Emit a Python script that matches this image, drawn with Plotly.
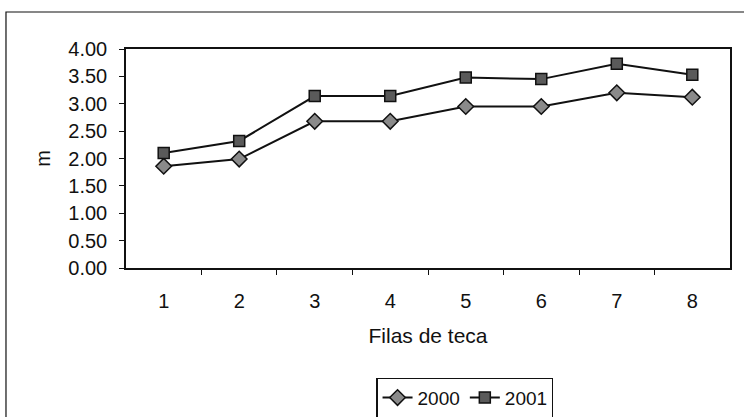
import plotly.graph_objects as go

# Teca row heights (m) measured in two years
filas = ["1", "2", "3", "4", "5", "6", "7", "8"]
altura_2000 = [1.86, 1.99, 2.68, 2.68, 2.95, 2.95, 3.20, 3.12]
altura_2001 = [2.10, 2.32, 3.14, 3.14, 3.48, 3.45, 3.73, 3.53]

FONT = "Liberation Sans, Arial, sans-serif"
INK = "#111111"

fig = go.Figure()
fig.add_trace(go.Scatter(
    x=filas, y=altura_2000, name="2000", mode="lines+markers",
    line=dict(color=INK, width=2),
    marker=dict(symbol="diamond", size=12, color="#8a8a8a",
                line=dict(color=INK, width=1.5)),
))
fig.add_trace(go.Scatter(
    x=filas, y=altura_2001, name="2001", mode="lines+markers",
    line=dict(color=INK, width=2),
    marker=dict(symbol="square", size=11, color="#5a5a5a",
                line=dict(color=INK, width=1.5)),
))

# outer chart frame (left and top edges)
fig.add_shape(type="path", xref="paper", yref="paper",
              path="M -0.1987,-1.8 L -0.1987,1.169 L 1.1,1.169",
              line=dict(color=INK, width=1.2))

fig.update_layout(
    width=744, height=417,
    margin=dict(l=126, r=14, t=49, b=149, autoexpand=False),
    paper_bgcolor="white", plot_bgcolor="white",
    font=dict(family=FONT, size=20, color=INK),
    showlegend=True,
    legend=dict(orientation="h", x=0.561, xanchor="center",
                y=-0.50, yanchor="top",
                bordercolor=INK, borderwidth=1.2,
                font=dict(size=19), itemwidth=30,
                tracegroupgap=0, bgcolor="white"),
    xaxis=dict(type="category", tickson="boundaries", automargin=False,
               showline=True, linecolor=INK, linewidth=1.5, mirror=True,
               ticks="outside", ticklen=5, tickcolor=INK, tickwidth=1,
               ticklabelstandoff=14,
               showgrid=False, zeroline=False,
               title=dict(text="Filas de teca", standoff=18,
                          font=dict(size=21))),
    yaxis=dict(range=[0, 4], dtick=0.5, tickformat=".2f", automargin=False,
               showline=True, linecolor=INK, linewidth=1.5, mirror=True,
               ticks="outside", ticklen=5, tickcolor=INK, tickwidth=1,
               ticklabelstandoff=8,
               showgrid=False, zeroline=False,
               title=dict(text="m", standoff=12, font=dict(size=20))),
)

fig.write_html("out.html")
